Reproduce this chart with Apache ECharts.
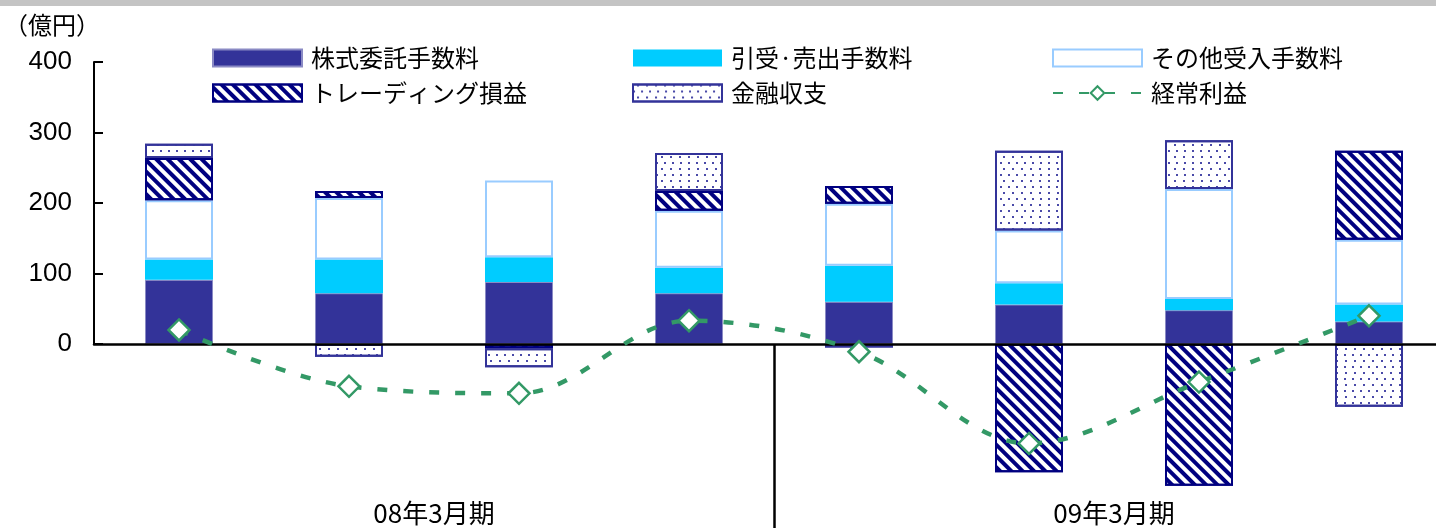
<!DOCTYPE html>
<html>
<head>
<meta charset="utf-8">
<script src="https://cdn.jsdelivr.net/npm/echarts@6/dist/echarts.min.js"></script>
<style>
html,body{margin:0;padding:0;background:#fff;overflow:hidden;}
#wrap{position:relative;width:1436px;height:528px;overflow:hidden;}
#topband{position:absolute;left:0;top:0;width:1436px;height:6px;background:#c4c4c4;z-index:5;}
#chart{position:absolute;left:0;top:0;width:1470px;height:528px;}
</style>
</head>
<body>
<div id="wrap"><div id="chart"></div><div id="topband"></div></div>
<script>
// ---- data ----
const categories = ['08/3期1Q','08/3期2Q','08/3期3Q','08/3期4Q','09/3期1Q','09/3期2Q','09/3期3Q','09/3期4Q'];
const periods = ['08年3月期','09年3月期'];
const seriesNames = ['株式委託手数料','引受·売出手数料','その他受入手数料','トレーディング損益','金融収支','経常利益'];
const stockCommission = [91, 72, 88, 72, 60, 56, 48, 32];
const underwriting   = [29, 48, 35, 36, 51, 30, 16, 24];
const otherFees      = [84, 87, 109, 81, 88, 75, 156, 92];
const trading        = [60, 10, -6, 28, 25, -182, -201, 126];
const financial      = [20, -18, -27, 54, -5, 113, 69, -89];
const ordinaryProfit = [20, -60, -70, 33, -11, -141, -54, 40];
const yTicks = [0, 100, 200, 300, 400];

// period axis slots: edge, period 1, divider, period 2, edge
const periodSlots = ['', periods[0], '', periods[1], ''];

const cjk = '"Noto Sans CJK JP", "Noto Sans", sans-serif';
const latin = '"Liberation Sans", Arial, sans-serif';

const chart = echarts.init(document.getElementById('chart'), null, {renderer: 'canvas'});

const stripeDecal = {
  symbol: 'rect', symbolSize: 1, color: '#000080',
  dashArrayX: [1, 0], dashArrayY: [4, 4], rotation: Math.PI / 4
};
const dotDecal = {
  symbol: 'rect', symbolSize: 1, color: '#4a4aa8',
  dashArrayX: [[1.6, 5.8], [0, 3.7, 1.6, 2.1]], dashArrayY: [1.6, 4], rotation: 0
};

function bar(name, data, itemStyle) {
  return {
    name, type: 'bar', stack: 'total', data,
    xAxisIndex: 1, yAxisIndex: 1, barWidth: 68,
    itemStyle, emphasis: {disabled: true}
  };
}

const legendText = {fontSize: 24, color: '#000', fontFamily: cjk, padding: [0, 0, 0, 4]};
function legend(left, data) {
  return {
    left, top: 46, padding: 0, orient: 'vertical', itemWidth: 89, itemHeight: 17, itemGap: 11,
    data, textStyle: legendText, selectedMode: false
  };
}

const option = {
  animation: false,
  title: {text: '（億円）', left: -1, top: 8, textStyle: {fontSize: 24, fontWeight: 'normal', color: '#000', fontFamily: cjk}},
  legend: [
    legend(212, [{name: seriesNames[0], icon: 'rect'}, {name: seriesNames[3], icon: 'rect'}]),
    legend(632, [{name: seriesNames[1], icon: 'rect'}, {name: seriesNames[4], icon: 'rect'}]),
    legend(1052, [{name: seriesNames[2], icon: 'rect'}, seriesNames[5]])
  ],
  grid: [
    {left: 94, top: 62, width: 1360, height: 282},
    {left: 94, top: 62, width: 1360, height: 466}
  ],
  xAxis: [
    {gridIndex: 0, type: 'category', data: categories, show: false},
    {gridIndex: 1, type: 'category', data: categories, z: 10,
     axisLine: {onZero: true, lineStyle: {color: '#000', width: 2.5}},
     axisTick: {show: false}, axisLabel: {show: false}},
    {gridIndex: 1, type: 'category', data: periodSlots, position: 'bottom', boundaryGap: false,
     axisLine: {show: false, onZero: false},
     axisTick: {show: true, inside: true, length: 184, interval: (i) => i === 2, lineStyle: {color: '#000', width: 2.5}},
     axisLabel: {inside: true, interval: 0, margin: 2, fontSize: 26, color: '#000', fontFamily: cjk}}
  ],
  yAxis: [
    {gridIndex: 0, type: 'value', min: yTicks[0], max: yTicks[yTicks.length - 1], interval: 100,
     axisLine: {show: true, lineStyle: {color: '#000', width: 2}},
     axisTick: {show: true, inside: true, length: 9, lineStyle: {color: '#000', width: 2}},
     axisLabel: {fontSize: 26, margin: 22, color: '#000', fontFamily: latin},
     splitLine: {show: false}},
    {gridIndex: 1, type: 'value', min: -261, max: 400, show: false, splitLine: {show: false}}
  ],
  series: [
    bar(seriesNames[0], stockCommission, {color: '#333399', borderColor: '#8a8ac4', borderWidth: 1}),
    bar(seriesNames[1], underwriting, {color: '#00ccff'}),
    bar(seriesNames[2], otherFees, {color: '#ffffff', borderColor: '#99ccff', borderWidth: 2}),
    bar(seriesNames[3], trading, {color: '#ffffff', borderColor: '#000080', borderWidth: 2, decal: stripeDecal}),
    bar(seriesNames[4], financial, {color: '#ffffff', borderColor: '#333399', borderWidth: 2, decal: dotDecal}),
    {
      name: seriesNames[5], type: 'line', data: ordinaryProfit, xAxisIndex: 1, yAxisIndex: 1,
      smooth: 0.35, z: 12, symbol: 'diamond', symbolSize: 21,
      lineStyle: {color: '#339966', width: 4.5, type: [10, 16]},
      itemStyle: {color: '#ffffff', borderColor: '#339966', borderWidth: 2.5},
      emphasis: {disabled: true}
    }
  ]
};
chart.setOption(option);
</script>
</body>
</html>
